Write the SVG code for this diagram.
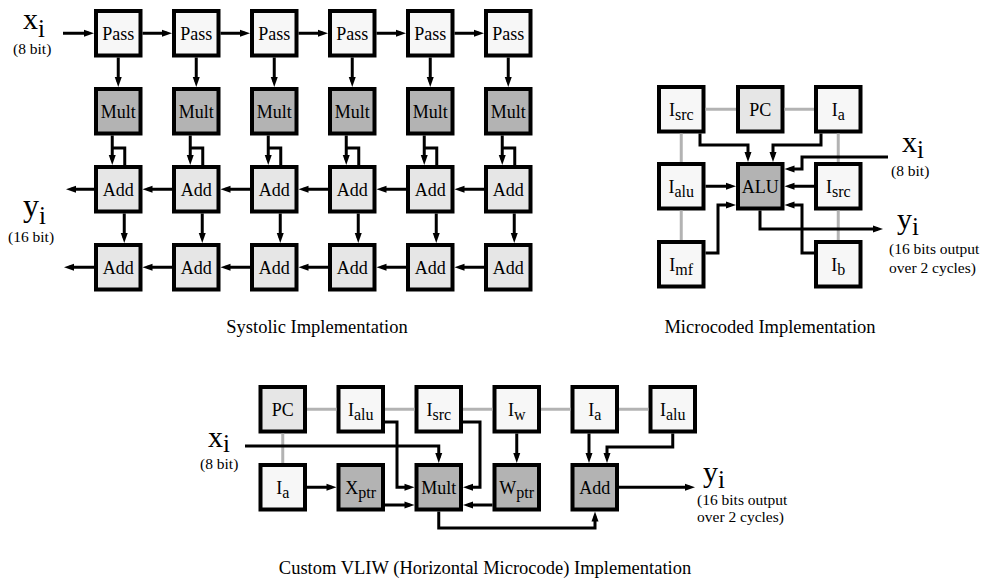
<svg xmlns="http://www.w3.org/2000/svg" width="987" height="583" viewBox="0 0 987 583">
<style>
text{font-family:"Liberation Serif","Times New Roman",serif;fill:#000}
.b{stroke:#000;stroke-width:4}
.l{fill:#f7f7f7}
.m{fill:#e6e6e6}
.d{fill:#b3b3b3}
.t{font-size:18px;text-anchor:middle}
.s{font-size:16px}
.c{font-size:18.5px;text-anchor:middle}
.v{font-size:30px}
.i{font-size:25px}
.n{font-size:15.5px}
.w{fill:none;stroke:#000;stroke-width:3;marker-end:url(#a)}
.p{fill:none;stroke:#000;stroke-width:3}
.g{fill:none;stroke:#b3b3b3;stroke-width:3}
</style>
<defs>
<marker id="a" markerWidth="10" markerHeight="7" refX="5" refY="3.5" orient="auto" markerUnits="userSpaceOnUse" overflow="visible"><path d="M0,0 L10,3.5 L0,7 z" fill="#000"/></marker>
</defs>

<!-- Systolic nodes -->
<g id="pass1"><rect class="b l" x="96" y="11" width="44.5" height="44.5"/><text class="t" x="118.25" y="39.75">Pass</text></g>
<g id="pass2"><rect class="b l" x="174" y="11" width="44.5" height="44.5"/><text class="t" x="196.25" y="39.75">Pass</text></g>
<g id="pass3"><rect class="b l" x="252" y="11" width="44.5" height="44.5"/><text class="t" x="274.25" y="39.75">Pass</text></g>
<g id="pass4"><rect class="b l" x="330" y="11" width="44.5" height="44.5"/><text class="t" x="352.25" y="39.75">Pass</text></g>
<g id="pass5"><rect class="b l" x="408" y="11" width="44.5" height="44.5"/><text class="t" x="430.25" y="39.75">Pass</text></g>
<g id="pass6"><rect class="b l" x="486" y="11" width="44.5" height="44.5"/><text class="t" x="508.25" y="39.75">Pass</text></g>

<g id="mult1"><rect class="b d" x="96" y="89" width="44.5" height="44.5"/><text class="t" x="118.25" y="117.75">Mult</text></g>
<g id="mult2"><rect class="b d" x="174" y="89" width="44.5" height="44.5"/><text class="t" x="196.25" y="117.75">Mult</text></g>
<g id="mult3"><rect class="b d" x="252" y="89" width="44.5" height="44.5"/><text class="t" x="274.25" y="117.75">Mult</text></g>
<g id="mult4"><rect class="b d" x="330" y="89" width="44.5" height="44.5"/><text class="t" x="352.25" y="117.75">Mult</text></g>
<g id="mult5"><rect class="b d" x="408" y="89" width="44.5" height="44.5"/><text class="t" x="430.25" y="117.75">Mult</text></g>
<g id="mult6"><rect class="b d" x="486" y="89" width="44.5" height="44.5"/><text class="t" x="508.25" y="117.75">Mult</text></g>

<g id="add1a"><rect class="b m" x="96" y="167" width="44.5" height="44.5"/><text class="t" x="118.25" y="195.75">Add</text></g>
<g id="add1b"><rect class="b m" x="174" y="167" width="44.5" height="44.5"/><text class="t" x="196.25" y="195.75">Add</text></g>
<g id="add1c"><rect class="b m" x="252" y="167" width="44.5" height="44.5"/><text class="t" x="274.25" y="195.75">Add</text></g>
<g id="add1d"><rect class="b m" x="330" y="167" width="44.5" height="44.5"/><text class="t" x="352.25" y="195.75">Add</text></g>
<g id="add1e"><rect class="b m" x="408" y="167" width="44.5" height="44.5"/><text class="t" x="430.25" y="195.75">Add</text></g>
<g id="add1f"><rect class="b m" x="486" y="167" width="44.5" height="44.5"/><text class="t" x="508.25" y="195.75">Add</text></g>

<g id="add2a"><rect class="b m" x="96" y="245" width="44.5" height="44.5"/><text class="t" x="118.25" y="273.75">Add</text></g>
<g id="add2b"><rect class="b m" x="174" y="245" width="44.5" height="44.5"/><text class="t" x="196.25" y="273.75">Add</text></g>
<g id="add2c"><rect class="b m" x="252" y="245" width="44.5" height="44.5"/><text class="t" x="274.25" y="273.75">Add</text></g>
<g id="add2d"><rect class="b m" x="330" y="245" width="44.5" height="44.5"/><text class="t" x="352.25" y="273.75">Add</text></g>
<g id="add2e"><rect class="b m" x="408" y="245" width="44.5" height="44.5"/><text class="t" x="430.25" y="273.75">Add</text></g>
<g id="add2f"><rect class="b m" x="486" y="245" width="44.5" height="44.5"/><text class="t" x="508.25" y="273.75">Add</text></g>

<g id="sys-labels">
<text class="v" x="23" y="29">x<tspan class="i" dy="8">i</tspan></text>
<text class="n" x="13" y="54">(8 bit)</text>
<text class="v" x="23" y="216" style="font-size:32px">y<tspan class="i" dy="8">i</tspan></text>
<text class="n" x="8" y="242">(16 bit)</text>
<text class="c" x="317" y="333">Systolic Implementation</text>
</g>

<!-- Microcoded nodes -->
<g id="m-isrc1"><rect class="b l" x="659" y="87" width="44.5" height="44.5"/><text class="t" x="681.25" y="115.5">I<tspan class="s" dy="4">src</tspan></text></g>
<g id="m-pc"><rect class="b m" x="738" y="87" width="44.5" height="44.5"/><text class="t" x="760.25" y="115.5">PC</text></g>
<g id="m-ia"><rect class="b l" x="816" y="87" width="44.5" height="44.5"/><text class="t" x="838.25" y="115.5">I<tspan class="s" dy="4">a</tspan></text></g>
<g id="m-ialu"><rect class="b l" x="659" y="164" width="44.5" height="44.5"/><text class="t" x="681.25" y="192.5">I<tspan class="s" dy="4">alu</tspan></text></g>
<g id="m-alu"><rect class="b d" x="738" y="164" width="44.5" height="44.5"/><text class="t" x="760.25" y="192.5">ALU</text></g>
<g id="m-isrc2"><rect class="b l" x="816" y="164" width="44.5" height="44.5"/><text class="t" x="838.25" y="192.5">I<tspan class="s" dy="4">src</tspan></text></g>
<g id="m-imf"><rect class="b l" x="659" y="242" width="44.5" height="44.5"/><text class="t" x="681.25" y="270.5">I<tspan class="s" dy="4">mf</tspan></text></g>
<g id="m-ib"><rect class="b l" x="816" y="242" width="44.5" height="44.5"/><text class="t" x="838.25" y="270.5">I<tspan class="s" dy="4">b</tspan></text></g>

<g id="micro-labels">
<text class="v" x="902" y="152">x<tspan class="i" dy="6">i</tspan></text>
<text class="n" x="891" y="176">(8 bit)</text>
<text class="v" x="897" y="229">y<tspan class="i" dy="6">i</tspan></text>
<text class="n" x="889" y="254">(16 bits output</text>
<text class="n" x="889" y="273">over 2 cycles)</text>
<text class="c" x="770" y="333">Microcoded Implementation</text>
</g>

<!-- VLIW nodes -->
<g id="v-pc"><rect class="b m" x="260.5" y="387" width="44.5" height="44.5"/><text class="t" x="282.75" y="415.5">PC</text></g>
<g id="v-ialu1"><rect class="b l" x="338.5" y="387" width="44.5" height="44.5"/><text class="t" x="360.75" y="415.5">I<tspan class="s" dy="4">alu</tspan></text></g>
<g id="v-isrc"><rect class="b l" x="416.5" y="387" width="44.5" height="44.5"/><text class="t" x="438.75" y="415.5">I<tspan class="s" dy="4">src</tspan></text></g>
<g id="v-iw"><rect class="b l" x="494.5" y="387" width="44.5" height="44.5"/><text class="t" x="516.75" y="415.5">I<tspan class="s" dy="4">w</tspan></text></g>
<g id="v-ia1"><rect class="b l" x="572.5" y="387" width="44.5" height="44.5"/><text class="t" x="594.75" y="415.5">I<tspan class="s" dy="4">a</tspan></text></g>
<g id="v-ialu2"><rect class="b l" x="650.5" y="387" width="44.5" height="44.5"/><text class="t" x="672.75" y="415.5">I<tspan class="s" dy="4">alu</tspan></text></g>
<g id="v-ia2"><rect class="b l" x="260.5" y="465" width="44.5" height="44.5"/><text class="t" x="282.75" y="493.5">I<tspan class="s" dy="4">a</tspan></text></g>
<g id="v-xptr"><rect class="b d" x="338.5" y="465" width="44.5" height="44.5"/><text class="t" x="360.75" y="493.5">X<tspan class="s" dy="4">ptr</tspan></text></g>
<g id="v-mult"><rect class="b d" x="416.5" y="465" width="44.5" height="44.5"/><text class="t" x="438.75" y="493.5">Mult</text></g>
<g id="v-wptr"><rect class="b d" x="494.5" y="465" width="44.5" height="44.5"/><text class="t" x="516.75" y="493.5">W<tspan class="s" dy="4">ptr</tspan></text></g>
<g id="v-add"><rect class="b d" x="572.5" y="465" width="44.5" height="44.5"/><text class="t" x="594.75" y="493.5">Add</text></g>

<g id="vliw-labels">
<text class="v" x="208" y="447">x<tspan class="i" dy="5">i</tspan></text>
<text class="n" x="200" y="469">(8 bit)</text>
<text class="v" x="703" y="482">y<tspan class="i" dy="6">i</tspan></text>
<text class="n" x="697" y="505">(16 bits output</text>
<text class="n" x="697" y="522">over 2 cycles)</text>
<text class="c" x="485" y="574">Custom VLIW (Horizontal Microcode) Implementation</text>
</g>

<!-- Connectors -->
<g id="connectors">
<!-- systolic -->
<path class="w" d="M63,33.25 H89"/>
<path class="w" d="M142.5,33.25 H167"/>
<path class="w" d="M220.5,33.25 H245"/>
<path class="w" d="M298.5,33.25 H323"/>
<path class="w" d="M376.5,33.25 H401"/>
<path class="w" d="M454.5,33.25 H479"/>

<path class="w" d="M118.25,57.5 V82"/>
<path class="w" d="M196.25,57.5 V82"/>
<path class="w" d="M274.25,57.5 V82"/>
<path class="w" d="M352.25,57.5 V82"/>
<path class="w" d="M430.25,57.5 V82"/>
<path class="w" d="M508.25,57.5 V82"/>

<path class="w" d="M112.25,135.5 V160"/><path class="p" d="M112.25,148 H124.75 V166"/>
<path class="w" d="M190.25,135.5 V160"/><path class="p" d="M190.25,148 H202.75 V166"/>
<path class="w" d="M268.25,135.5 V160"/><path class="p" d="M268.25,148 H280.75 V166"/>
<path class="w" d="M346.25,135.5 V160"/><path class="p" d="M346.25,148 H358.75 V166"/>
<path class="w" d="M424.25,135.5 V160"/><path class="p" d="M424.25,148 H436.75 V166"/>
<path class="w" d="M502.25,135.5 V160"/><path class="p" d="M502.25,148 H514.75 V166"/>

<path class="w" d="M94,189.25 H71"/>
<path class="w" d="M172,189.25 H147.5"/>
<path class="w" d="M250,189.25 H225.5"/>
<path class="w" d="M328,189.25 H303.5"/>
<path class="w" d="M406,189.25 H381.5"/>
<path class="w" d="M484,189.25 H459.5"/>

<path class="w" d="M124.25,213.5 V238"/>
<path class="w" d="M202.25,213.5 V238"/>
<path class="w" d="M280.25,213.5 V238"/>
<path class="w" d="M358.25,213.5 V238"/>
<path class="w" d="M436.25,213.5 V238"/>
<path class="w" d="M514.25,213.5 V238"/>

<path class="w" d="M94,267.25 H69"/>
<path class="w" d="M172,267.25 H147.5"/>
<path class="w" d="M250,267.25 H225.5"/>
<path class="w" d="M328,267.25 H303.5"/>
<path class="w" d="M406,267.25 H381.5"/>
<path class="w" d="M484,267.25 H459.5"/>

<!-- microcoded -->
<path class="g" d="M705.5,109.25 H736"/>
<path class="g" d="M784.5,109.25 H814"/>
<path class="g" d="M681.25,133.5 V162"/>
<path class="g" d="M681.25,210.5 V240"/>
<path class="g" d="M838.25,133.5 V162"/>
<path class="g" d="M838.25,210.5 V240"/>
<path class="w" d="M700,133.5 V145 H748 V157"/>
<path class="w" d="M821,133.5 V145 H773 V157"/>
<path class="w" d="M888,157 H802 V169 H789.5"/>
<path class="w" d="M814,186.25 H789.5"/>
<path class="w" d="M705.5,186.25 H731"/>
<path class="w" d="M814,253 H802 V205 H789.5"/>
<path class="w" d="M705.5,253 H718 V205 H731"/>
<path class="w" d="M760,210.5 V229 H878"/>

<!-- VLIW -->
<path class="g" d="M307,409.25 H336.5"/>
<path class="g" d="M385,409.25 H414.5"/>
<path class="g" d="M463,409.25 H492.5"/>
<path class="g" d="M541,409.25 H570.5"/>
<path class="g" d="M619,409.25 H648.5"/>
<path class="g" d="M282.75,433.5 V463"/>
<path class="w" d="M245,446 H438.75 V458"/>
<path class="w" d="M385,422 H397 V487.25 H409.5"/>
<path class="w" d="M307,487.25 H331.5"/>
<path class="w" d="M385,505 H409.5"/>
<path class="w" d="M463,422 H480 V487.25 H468"/>
<path class="w" d="M492.5,505 H468"/>
<path class="w" d="M516.75,433.5 V458"/>
<path class="w" d="M589,433.5 V458"/>
<path class="w" d="M672.75,433.5 V447 H607 V458"/>
<path class="w" d="M438.75,511.5 V528 H595 V516.5"/>
<path class="w" d="M619,487.25 H690"/>
</g>
</svg>
